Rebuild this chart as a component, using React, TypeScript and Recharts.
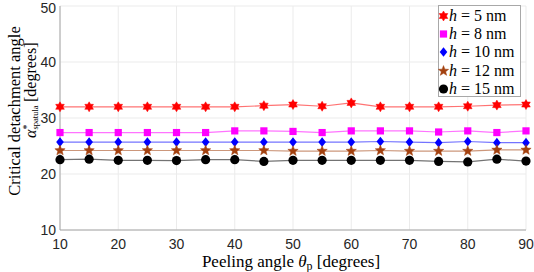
import React from "react";
import { LineChart, Line, XAxis, YAxis, CartesianGrid, Legend } from "recharts";

// peeling angle theta_p [degrees]
const angles = [10, 15, 20, 25, 30, 35, 40, 45, 50, 55, 60, 65, 70, 75, 80, 85, 90];

// critical detachment angle for each spatula thickness h
const h5 = [32.0, 32.0, 32.0, 32.0, 32.0, 32.0, 32.0, 32.2, 32.4, 32.1, 32.7, 32.0, 32.0, 32.0, 32.1, 32.3, 32.4];
const h8 = [27.4, 27.4, 27.4, 27.4, 27.4, 27.4, 27.7, 27.7, 27.6, 27.4, 27.7, 27.7, 27.7, 27.5, 27.7, 27.4, 27.7];
const h10 = [25.7, 25.7, 25.7, 25.7, 25.7, 25.7, 25.7, 25.7, 25.7, 25.7, 25.7, 25.8, 25.7, 25.6, 25.8, 25.6, 25.6];
const h12 = [24.2, 24.2, 24.2, 24.2, 24.2, 24.2, 24.2, 24.2, 24.1, 24.1, 24.1, 24.2, 24.1, 24.1, 24.1, 24.3, 24.3];
const h15 = [22.55, 22.65, 22.45, 22.45, 22.4, 22.55, 22.55, 22.25, 22.45, 22.45, 22.45, 22.45, 22.45, 22.25, 22.15, 22.65, 22.3];

const xTicks = [10, 20, 30, 40, 50, 60, 70, 80, 90];
const yTicks = [10, 20, 30, 40, 50];

const series = [
  { key: "h5", label: "5", values: h5, color: "#ff0000", shape: "hexagram" },
  { key: "h8", label: "8", values: h8, color: "#ff00ff", shape: "square" },
  { key: "h10", label: "10", values: h10, color: "#0000ff", shape: "diamond" },
  { key: "h12", label: "12", values: h12, color: "#a3410f", shape: "pentagram" },
  { key: "h15", label: "15", values: h15, color: "#000000", shape: "circle" },
];

const data = angles.map((a, i) => {
  const row: Record<string, number> = { angle: a };
  series.forEach((s) => (row[s.key] = s.values[i]));
  return row;
});

const SERIF = "'Liberation Serif', 'Times New Roman', serif";
const SANS = "'Liberation Sans', Arial, sans-serif";

function starPoints(cx: number, cy: number, n: number, R: number, r: number) {
  const pts: string[] = [];
  for (let i = 0; i < 2 * n; i++) {
    const a = -Math.PI / 2 + (i * Math.PI) / n;
    const rad = i % 2 === 0 ? R : r;
    pts.push(`${cx + rad * Math.cos(a)},${cy + rad * Math.sin(a)}`);
  }
  return pts.join(" ");
}

function Marker({ shape, cx, cy, color }: { shape: string; cx: number; cy: number; color: string }) {
  if (shape === "hexagram")
    return <polygon points={starPoints(cx, cy, 6, 5, 2.9)} fill={color} stroke={color} strokeWidth={0.5} />;
  if (shape === "square")
    return <rect x={cx - 3.6} y={cy - 3.6} width={7.2} height={7.2} fill={color} />;
  if (shape === "diamond")
    return (
      <polygon
        points={`${cx},${cy - 4.8} ${cx + 3.8},${cy} ${cx},${cy + 4.8} ${cx - 3.8},${cy}`}
        fill={color}
      />
    );
  if (shape === "pentagram")
    return <polygon points={starPoints(cx, cy, 5, 5.4, 2.3)} fill={color} stroke={color} strokeWidth={0.5} />;
  return <circle cx={cx} cy={cy} r={4.6} fill={color} />;
}

function LegendBox() {
  return (
    <div
      style={{
        width: 83,
        height: 92,
        border: "1px solid #a8a8a8",
        background: "#fff",
        paddingTop: 1,
        boxSizing: "border-box",
        fontFamily: SERIF,
        fontSize: 16,
        color: "#000",
      }}
    >
      {series.map((s) => (
        <div key={s.key} style={{ display: "flex", alignItems: "center", height: 18.2, whiteSpace: "nowrap" }}>
          <svg width={11} height={14} style={{ marginLeft: -1 }}>
            <Marker shape={s.shape} cx={5.5} cy={7} color={s.color} />
          </svg>
          <span>
            <i>h</i> = {s.label} nm
          </span>
        </div>
      ))}
    </div>
  );
}

function XTitle(props: any) {
  const vb = props.viewBox;
  return (
    <text x={vb.x + vb.width / 2 - 2} y={vb.y + 37} textAnchor="middle" fontFamily={SERIF} fontSize={17} fill="#000">
      Peeling angle <tspan fontStyle="italic">θ</tspan>
      <tspan fontSize={12} dy={3}>p</tspan>
      <tspan dy={-3}> [degrees]</tspan>
    </text>
  );
}

function YTitle(props: any) {
  const vb = props.viewBox;
  const x1 = vb.x + 20;
  const y1 = vb.y + 105;
  const x2 = vb.x + 35.5;
  const y2 = vb.y + 132;
  return (
    <g fontFamily={SERIF} fill="#000">
      <text x={x1} y={y1} transform={`rotate(-90 ${x1} ${y1})`} textAnchor="middle" fontSize={16.5}>
        Critical detachment angle
      </text>
      <g transform={`rotate(-90 ${x2} ${y2})`}>
        <text x={x2} y={y2} fontSize={16} fontStyle="italic">α</text>
        <text x={x2 + 8.5} y={y2 - 6} fontSize={10}>*</text>
        <text x={x2 + 8.5} y={y2 + 2.5} fontSize={8.5}>spatula</text>
        <text x={x2 + 36} y={y2} fontSize={16}>[degrees]</text>
      </g>
    </g>
  );
}

export default function App() {
  return (
    <div style={{ position: "absolute", left: 0, top: 0, width: 534, height: 272, background: "#fff" }}>
      <LineChart width={534} height={272} data={data} margin={{ top: 6, right: 8, bottom: 0, left: 0 }}>
        <CartesianGrid stroke="#ebebeb" strokeWidth={1} />
        <XAxis
          dataKey="angle"
          type="number"
          domain={[10, 90]}
          ticks={xTicks}
          height={42}
          tickSize={0}
          tickMargin={9}
          axisLine={{ stroke: "#a6a6a6" }}
          tick={{ fontFamily: SANS, fontSize: 14, fill: "#262626" }}
          label={XTitle}
        />
        <YAxis
          type="number"
          domain={[10, 50]}
          ticks={yTicks}
          width={60}
          tickSize={0}
          tickMargin={4}
          axisLine={{ stroke: "#a6a6a6" }}
          tick={{ fontFamily: SANS, fontSize: 14, fill: "#262626" }}
          label={YTitle}
        />
        {series.map((s) => (
          <Line
            key={s.key}
            dataKey={s.key}
            stroke={s.color}
            strokeOpacity={0.55}
            strokeWidth={1.2}
            isAnimationActive={false}
            dot={(p: any) => <Marker key={`${s.key}-${p.index}`} shape={s.shape} cx={p.cx} cy={p.cy} color={s.color} />}
            activeDot={false}
          />
        ))}
        <Legend
          layout="vertical"
          align="center"
          verticalAlign="middle"
          content={() => <LegendBox />}
          wrapperStyle={{ position: "absolute", left: 438, top: 5, width: 83, height: 92, right: "auto", bottom: "auto" }}
        />
      </LineChart>
    </div>
  );
}
